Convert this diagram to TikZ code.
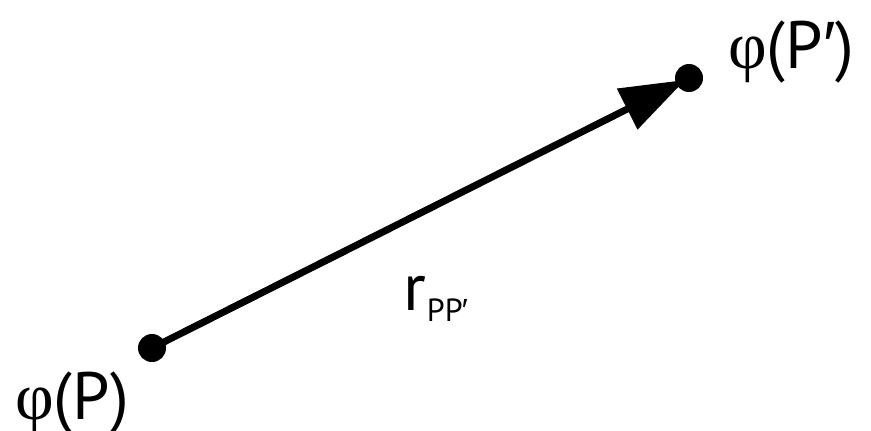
\documentclass[tikz,border=0pt]{standalone}
\usepackage{fontspec}
\setmainfont{PT Sans}
\newfontfamily\phifont{Liberation Serif}
\newfontfamily\primefont{Liberation Sans}
\usetikzlibrary{arrows.meta}
\begin{document}
\begin{tikzpicture}[x=1pt,y=-1pt,
  dot/.style={circle,fill=black,inner sep=0pt,minimum size=28pt},
  lbl/.style={inner sep=0pt,anchor=base west,font=\fontsize{67}{80}\selectfont},
  vec/.style={line width=7pt,-{Triangle[length=65pt,width=44pt]}}]
\useasboundingbox (0,0) rectangle (871,431);
\node[dot] (p) at (152,348) {};
\node[dot] (q) at (689,78) {};
\draw[vec,shorten >=-10pt] (p.center) -- (q);
\node[lbl] (lp) at (15,419) {{\phifont φ}(P)};
\node[lbl] (lq) at (728,68) {{\phifont φ}(P{\primefont ′})};
\node[lbl] (lr) at (403,310) {r\kern1pt\raisebox{-11pt}{\fontsize{32}{38}\selectfont PP{\primefont\kern-1pt ′}}};
\end{tikzpicture}
\end{document}
